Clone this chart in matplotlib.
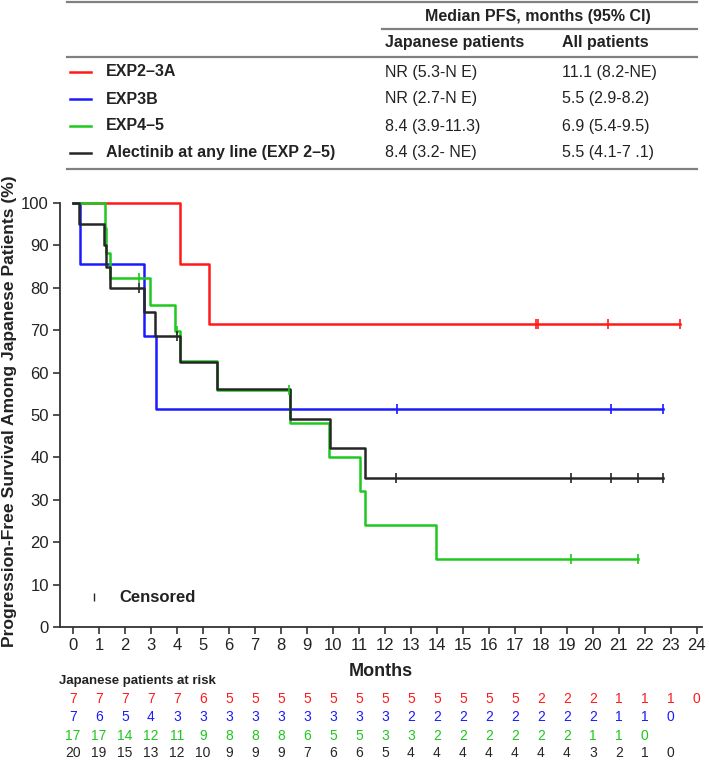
import numpy as np
import matplotlib
matplotlib.use('Agg')
import matplotlib.pyplot as plt
from matplotlib.lines import Line2D
import matplotlib.transforms as mtransforms

plt.rcParams['font.family'] = ['Liberation Sans', 'DejaVu Sans']

# Kaplan-Meier step data (months, % PFS)
red_times = [0, 4.13, 5.24]
red_surv = [100, 85.7, 71.4]
red_end = 23.36
red_cens = [17.8, 17.9, 20.6, 23.36]

blue_times = [0, 0.28, 2.72, 3.19]
blue_surv = [100, 85.7, 68.6, 51.4]
blue_end = 22.69
blue_cens = [12.45, 20.7, 22.69]

green_times = [0, 1.22, 1.28, 1.44, 2.95, 3.93, 4.13, 5.54, 8.36, 9.86, 11.03, 11.24, 13.98]
green_surv = [100, 94.1, 88.2, 82.4, 76.0, 69.7, 62.7, 55.8, 48.2, 40.2, 32.1, 24.1, 16.1]
green_end = 21.73
green_cens = [2.55, 4.02, 8.3, 19.15, 21.73]

black_times = [0, 0.25, 1.18, 1.27, 1.41, 2.72, 3.17, 4.13, 5.54, 8.36, 9.9, 11.24]
black_surv = [100, 95, 90, 85, 80, 74.3, 68.6, 62.4, 56.1, 49.1, 42.1, 35.1]
black_end = 22.69
black_cens = [2.55, 4.0, 12.43, 19.17, 20.7, 21.75, 22.69]

# numbers at risk, one value per month starting at 0
risk_red = [7, 7, 7, 7, 7, 6, 5, 5, 5, 5, 5, 5, 5, 5, 5, 5, 5, 5, 2, 2, 2, 1, 1, 1, 0]
risk_blue = [7, 6, 5, 4, 3, 3, 3, 3, 3, 3, 3, 3, 3, 2, 2, 2, 2, 2, 2, 2, 2, 1, 1, 0]
risk_green = [17, 17, 14, 12, 11, 9, 8, 8, 8, 6, 5, 5, 3, 3, 2, 2, 2, 2, 2, 2, 1, 1, 0]
risk_black = [20, 19, 15, 13, 12, 10, 9, 9, 9, 7, 6, 6, 5, 4, 4, 4, 4, 4, 4, 4, 3, 2, 1, 0]

# median PFS table
group_labels = ['EXP2\u20133A', 'EXP3B', 'EXP4\u20135', 'Alectinib at any line (EXP 2\u20135)']
median_japanese = ['NR (5.3-N E)', 'NR (2.7-N E)', '8.4 (3.9-11.3)', '8.4 (3.2- NE)']
median_all = ['11.1 (8.2-NE)', '5.5 (2.9-8.2)', '6.9 (5.4-9.5)', '5.5 (4.1-7 .1)']

RED = '#ff1a1a'
BLUE = '#1a1aff'
GREEN = '#1ec81e'
BLACK = '#262626'
colors = [RED, BLUE, GREEN, BLACK]

W, H = 709, 762
fig = plt.figure(figsize=(W / 100, H / 100), dpi=100)


def fx(px):
    return px / W


def fy(py):
    return 1 - py / H


ax = fig.add_axes([fx(60), fy(627), fx(702) - fx(60), fy(203) - fy(627)])
ax.set_xlim(-0.5, 24.2)
ax.set_ylim(0, 100)


def km(times, surv, end):
    t = list(times) + [end]
    s = list(surv) + [surv[-1]]
    return t, s


def level_at(times, surv, x):
    idx = np.searchsorted(times, x, side='right') - 1
    return np.array(surv)[idx]


curves = [
    (red_times, red_surv, red_end, red_cens, RED),
    (blue_times, blue_surv, blue_end, blue_cens, BLUE),
    (green_times, green_surv, green_end, green_cens, GREEN),
    (black_times, black_surv, black_end, black_cens, BLACK),
]
for times, surv, end, cens, c in curves:
    t, s = km(times, surv, end)
    ax.step(t, s, where='post', color=c, lw=1.8, clip_on=False, zorder=3)
    ax.plot(cens, level_at(times, surv, cens), ls='none', marker='|',
            color=c, ms=7, mew=1.2, clip_on=False, zorder=4)

for side in ['top', 'right']:
    ax.spines[side].set_visible(False)
for side in ['left', 'bottom']:
    ax.spines[side].set_color('#333333')
    ax.spines[side].set_linewidth(1.3)
ax.spines['left'].set_bounds(0, 100)

ax.set_xticks(range(0, 25))
ax.set_yticks(range(0, 101, 10))
ax.tick_params(direction='out', length=5, width=1.2, color='#333333',
               labelsize=12, labelcolor='#222222', pad=3)

# censored key
ax.plot([0.8], [7], ls='none', marker='|', color=BLACK, ms=6, mew=1.0)
ax.text(1.8, 7, 'Censored', fontsize=12, fontweight='bold', va='center', color='#222222')

fig.text(fx(10), fy(411), 'Progression-Free Survival Among Japanese Patients (%)',
         rotation=90, ha='center', va='center', fontsize=12.6, fontweight='bold', color='#222222')
fig.text(fx(381), fy(672), 'Months', ha='center', va='center',
         fontsize=13, fontweight='bold', color='#222222')

# at-risk table, aligned with the month ticks
trans = mtransforms.blended_transform_factory(ax.transData, fig.transFigure)
fig.text(fx(59), fy(681), 'Japanese patients at risk', ha='left', va='center',
         fontsize=9.5, fontweight='bold', color='#222222')
risk_rows = [risk_red, risk_blue, risk_green, risk_black]
row_y = [699, 717, 736, 753]
for vals, c, py in zip(risk_rows, colors, row_y):
    for m, v in enumerate(vals):
        ax.text(m, fy(py), str(v), transform=trans, ha='center', va='center',
                fontsize=10, color=c, clip_on=False)

# median PFS table at the top
line_kw = dict(color='#808080', lw=1.6)
fig.add_artist(Line2D([fx(67), fx(697)], [fy(2), fy(2)], **line_kw))
fig.add_artist(Line2D([fx(382), fx(697)], [fy(29), fy(29)], **line_kw))
fig.add_artist(Line2D([fx(67), fx(697)], [fy(57), fy(57)], **line_kw))
fig.add_artist(Line2D([fx(67), fx(697)], [fy(169), fy(169)], **line_kw))

fig.text(fx(538), fy(16), 'Median PFS, months (95% CI)', ha='center', va='center',
         fontsize=11.5, fontweight='bold', color='#222222')
fig.text(fx(385), fy(43), 'Japanese patients', ha='left', va='center',
         fontsize=11.5, fontweight='bold', color='#222222')
fig.text(fx(562), fy(43), 'All patients', ha='left', va='center',
         fontsize=11.5, fontweight='bold', color='#222222')

table_y = [72, 99, 126, 153]
for lab, jp, al, c, py in zip(group_labels, median_japanese, median_all, colors, table_y):
    fig.add_artist(Line2D([fx(70), fx(91)], [fy(py), fy(py)], color=c, lw=1.8))
    fig.text(fx(106), fy(py), lab, ha='left', va='center', fontsize=11.5,
             fontweight='bold', color='#222222')
    fig.text(fx(385), fy(py), jp, ha='left', va='center', fontsize=11.5, color='#222222')
    fig.text(fx(562), fy(py), al, ha='left', va='center', fontsize=11.5, color='#222222')

fig.savefig('out.png', dpi=100)
